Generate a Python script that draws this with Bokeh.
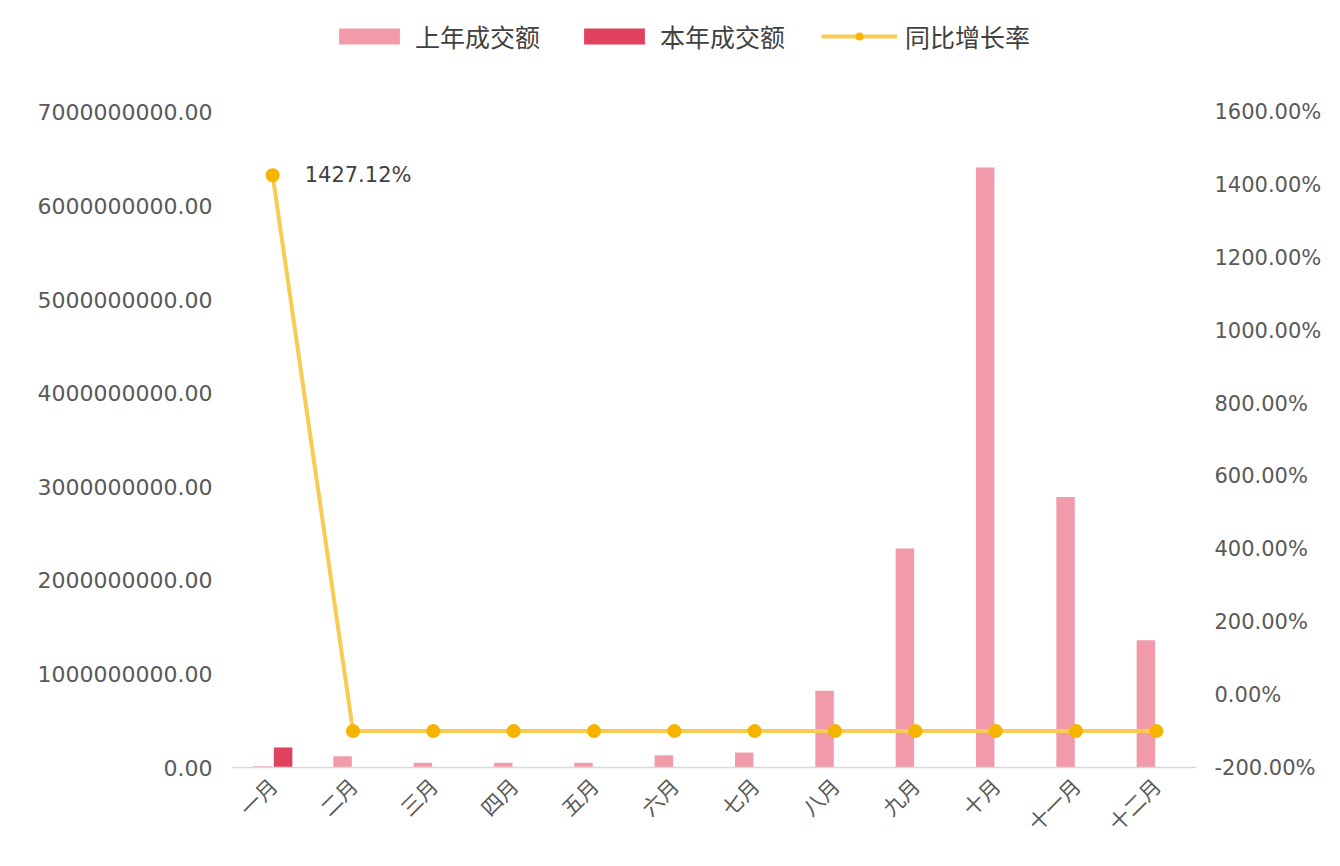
import math
from bokeh.plotting import figure
from bokeh.models import (ColumnDataSource, LinearAxis, Range1d, CustomJSTickFormatter,
                          FixedTicker, Legend, LegendItem)
from bokeh.transform import dodge
from bokeh.embed import file_html
from bokeh.resources import INLINE
from bokeh.core.properties import value

months = ["一月", "二月", "三月", "四月", "五月", "六月", "七月", "八月", "九月", "十月", "十一月", "十二月"]
last_year = [1.4e7, 1.2e8, 5.0e7, 5.0e7, 5.0e7, 1.3e8, 1.6e8, 8.2e8, 2.34e9, 6.41e9, 2.89e9, 1.36e9]
this_year = [2.14e8, 0, 0, 0, 0, 0, 0, 0, 0, 0, 0, 0]
growth = [1427.12, -100, -100, -100, -100, -100, -100, -100, -100, -100, -100, -100]
left_ticks = [0, 1e9, 2e9, 3e9, 4e9, 5e9, 6e9, 7e9]
right_ticks = [-200, 0, 200, 400, 600, 800, 1000, 1200, 1400, 1600]

src = ColumnDataSource(dict(month=months, last=last_year, this=this_year, growth=growth))

PINK = "#F19BAA"
RED = "#E0415F"
LINE = "#F8CB52"
MARK = "#F4B400"
TXT = "#595959"
NUMFONT = "DejaVu Sans"
CJK = "Noto Sans CJK SC"

# frame extends above the top tick so the legend can sit inside it
TOP_TICK_PX = 656      # pixels from axis bottom to the top tick
FRAME_PX = 756         # full frame height
scale = FRAME_PX / TOP_TICK_PX
lmin, lmax = left_ticks[0], left_ticks[-1]
rmin, rmax = right_ticks[0], right_ticks[-1]

p = figure(width=1324, height=850, x_range=months,
           y_range=Range1d(lmin, lmin + (lmax - lmin) * scale),
           output_backend="svg", toolbar_location=None,
           min_border_left=232, min_border_right=127, min_border_top=12, min_border_bottom=82)
p.outline_line_color = None
p.background_fill_color = "white"
p.xgrid.grid_line_color = None
p.ygrid.grid_line_color = None

p.extra_y_ranges = {"pct": Range1d(rmin, rmin + (rmax - rmin) * scale)}

r1 = p.vbar(x=dodge("month", -0.13, range=p.x_range), top="last", width=0.23,
            source=src, fill_color=PINK, line_color=None)
r2 = p.vbar(x=dodge("month", 0.13, range=p.x_range), top="this", width=0.23,
            source=src, fill_color=RED, line_color=None)
r3 = p.line(x="month", y="growth", source=src, y_range_name="pct",
            line_color=LINE, line_width=4)
r4 = p.scatter(x="month", y="growth", source=src, y_range_name="pct",
               size=14, fill_color=MARK, line_color=None)

lab_src = ColumnDataSource(dict(month=[months[0]], growth=[growth[0]],
                                txt=[f"{growth[0]:.2f}%"]))
p.text(x="month", y="growth", text="txt", source=lab_src, y_range_name="pct",
       x_offset=32, text_baseline="middle", text_align="left",
       text_font=value(NUMFONT), text_font_size="21px", text_color="#404040")

# left axis
ya = p.yaxis[0]
ya.ticker = FixedTicker(ticks=left_ticks)
ya.formatter = CustomJSTickFormatter(code="return tick.toFixed(2);")
ya.axis_line_color = None
ya.major_tick_line_color = None
ya.minor_tick_line_color = None
ya.major_label_standoff = 14
ya.major_label_text_font = NUMFONT
ya.major_label_text_font_size = "22px"
ya.major_label_text_color = TXT

# right axis
ra = LinearAxis(y_range_name="pct", ticker=FixedTicker(ticks=right_ticks),
                formatter=CustomJSTickFormatter(code="return tick.toFixed(2) + '%';"))
ra.axis_line_color = None
ra.major_tick_line_color = None
ra.minor_tick_line_color = None
ra.major_label_standoff = 12
ra.major_label_text_font = NUMFONT
ra.major_label_text_font_size = "21px"
ra.major_label_text_color = TXT
p.add_layout(ra, "right")

# bottom axis
xa = p.xaxis[0]
xa.axis_line_color = "#D9D9D9"
xa.axis_line_width = 1.5
xa.major_tick_line_color = None
xa.minor_tick_line_color = None
xa.major_label_orientation = math.pi / 4
xa.major_label_standoff = 8
xa.major_label_text_font = CJK
xa.major_label_text_font_size = "21px"
xa.major_label_text_color = TXT

legend = Legend(items=[
    LegendItem(label="上年成交额", renderers=[r1]),
    LegendItem(label="本年成交额", renderers=[r2]),
    LegendItem(label="同比增长率", renderers=[r3, r4]),
], orientation="horizontal", location=(99, 713))
legend.border_line_color = None
legend.background_fill_alpha = 0
legend.glyph_width = 76
legend.glyph_height = 20
legend.label_standoff = 8
legend.spacing = 36
legend.padding = 5
legend.label_text_font = CJK
legend.label_text_font_size = "25px"
legend.label_text_color = "#404040"
p.add_layout(legend)

open("out.html", "w").write(file_html(p, INLINE))
